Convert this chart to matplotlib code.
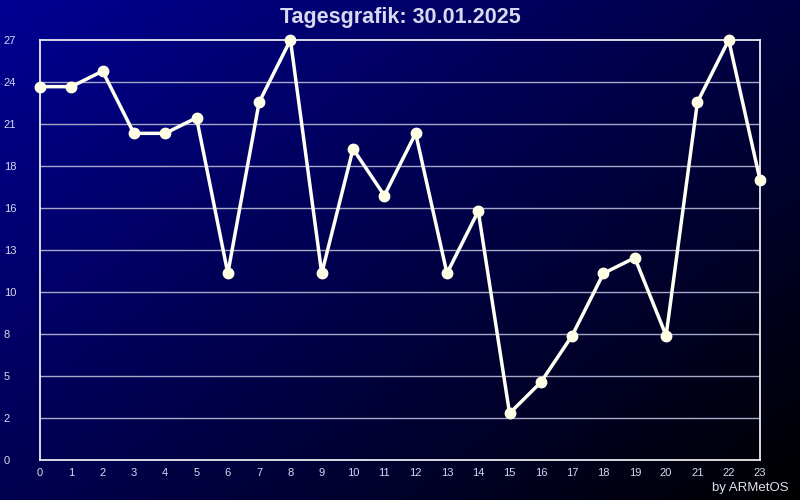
import numpy as np
import matplotlib
matplotlib.use("Agg")
import matplotlib.pyplot as plt

# hourly values
hours = list(range(24))
values = [24, 24, 25, 21, 21, 22, 12, 23, 27, 12, 20, 17,
          21, 12, 16, 3, 5, 8, 12, 13, 8, 23, 27, 18]
y_max = 27
y_ticks = np.linspace(0, y_max, 11)
y_labels = [str(int(v + 1e-9)) for v in y_ticks]

plt.rcParams['font.family'] = ['Liberation Sans', 'DejaVu Sans']

fig = plt.figure(figsize=(8, 5), dpi=100)

# diagonal gradient background, dark blue top-left to black bottom-right
bg = fig.add_axes([0, 0, 1, 1])
gx, gy = np.meshgrid(np.linspace(0, 1, 400), np.linspace(0, 1, 250))
t = np.clip((gx * 0.55 + gy * 0.45), 0, 1)
top = np.array([0.0, 0.0, 0.58])
bottom = np.array([0.0, 0.0, 0.0])
img = top[None, None, :] * (1 - t[..., None]) + bottom[None, None, :] * t[..., None]
bg.imshow(img, aspect='auto', extent=[0, 1, 0, 1])
bg.axis('off')

ax = fig.add_axes([40 / 800, 40 / 500, 720 / 800, 420 / 500])
ax.patch.set_alpha(0)
ax.set_xlim(0, 23)
ax.set_ylim(0, y_max)

for yv in y_ticks[1:-1]:
    ax.axhline(yv, color='#a8a8c8', lw=1, zorder=1)

ax.plot(hours, values, color='#fffff4', lw=2.5, zorder=3, clip_on=False,
        marker='o', markersize=7.5, markerfacecolor='#ffffe6',
        markeredgecolor='#ffffe6')

for s in ax.spines.values():
    s.set_color('white')
    s.set_linewidth(1.2)

ax.set_xticks(hours)
ax.set_yticks(y_ticks)
ax.set_yticklabels(y_labels)
ax.tick_params(length=0, colors='#d8d8f0', labelsize=8)
ax.tick_params(axis='x', pad=6)
ax.tick_params(axis='y', pad=26)
for lbl in ax.get_yticklabels():
    lbl.set_horizontalalignment('left')

fig.text(0.5, 0.965, 'Tagesgrafik: 30.01.2025', ha='center', va='center',
         color='#d8d8f0', fontsize=15.5, fontweight='bold')
fig.text(0.986, 0.024, 'by ARMetOS', ha='right', va='center',
         color='#e0e0f0', fontsize=9.5)

fig.savefig('out.png', dpi=100)
